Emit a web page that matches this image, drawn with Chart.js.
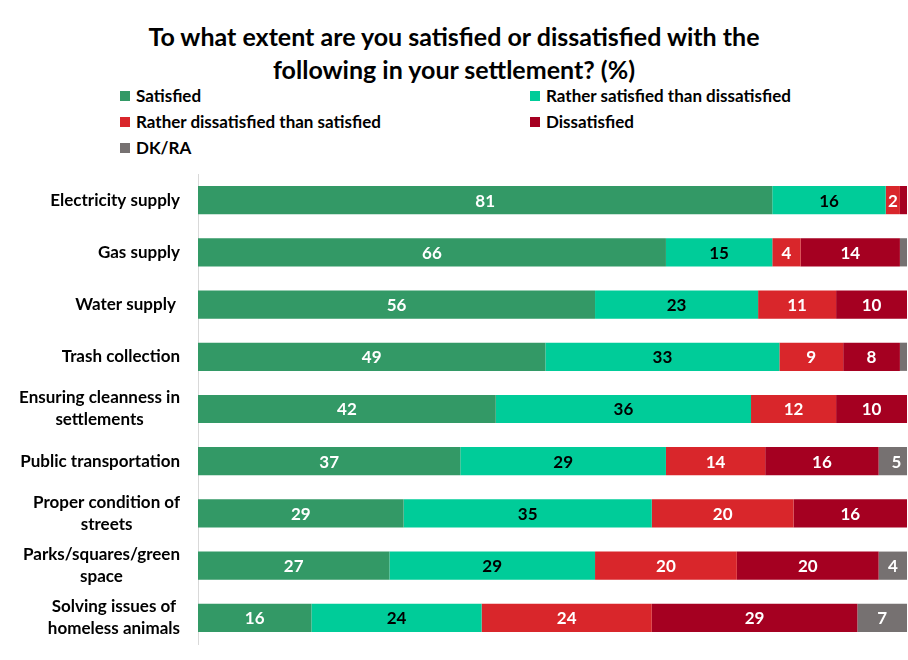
<!DOCTYPE html>
<html>
<head>
<meta charset="utf-8">
<script src="https://cdn.jsdelivr.net/npm/chart.js@4/dist/chart.umd.min.js"></script>
<style>
  html, body { margin:0; padding:0; background:#fff; }
  #wrap { position:relative; width:908px; height:660px; font-family:Lato, "Open Sans", sans-serif; }
  #title { position:absolute; left:0; top:20px; width:908px; text-align:center; font-weight:bold; font-size:25px; line-height:33px; color:#000; }
  #legend { position:absolute; left:120px; top:85px; width:760px; }
  .li { position:absolute; font-weight:bold; font-size:17px; color:#000; white-space:nowrap; line-height:21px; }
  .li span { display:inline-block; width:10px; height:10px; margin-right:6px; vertical-align:1px; }
  canvas { position:absolute; left:0; top:0; }
</style>
</head>
<body>
<div id="wrap">
  <div id="title">To what extent are you satisfied or dissatisfied with the<br>following in your settlement? (%)</div>
  <div id="legend"></div>
  <canvas id="c" width="908" height="660"></canvas>
</div>
<script>
const categories = [
  ['Electricity supply'],
  ['Gas supply'],
  ['Water supply '],
  ['Trash collection'],
  ['Ensuring cleanness in', 'settlements'],
  ['Public transportation'],
  ['Proper condition of', 'streets'],
  ['Parks/squares/green', 'space'],
  ['Solving issues of', 'homeless animals']
];
const seriesNames = ['Satisfied', 'Rather satisfied than dissatisfied', 'Rather dissatisfied than satisfied', 'Dissatisfied', 'DK/RA'];
const satisfied       = [81, 66, 56, 49, 42, 37, 29, 27, 16];
const ratherSatisfied = [16, 15, 23, 33, 36, 29, 35, 29, 24];
const ratherDissat    = [2, 4, 11, 9, 12, 14, 20, 20, 24];
const dissatisfied    = [1, 14, 10, 8, 10, 16, 16, 20, 29];
const dkra            = [0, 1, 0, 1, 0.4, 5, 0.3, 4, 7];

const colors = ['#339966', '#00CC99', '#D9262B', '#A50021', '#767171'];
const labelColors = ['#fff', '#000', '#fff', '#fff', '#fff'];
const FONT = 'Lato, "Open Sans", sans-serif';

// legend in two columns like the original
const legendPos = [[0,0],[410,0],[0,26],[410,26],[0,52]];
const leg = document.getElementById('legend');
seriesNames.forEach((n, i) => {
  const d = document.createElement('div');
  d.className = 'li';
  d.style.left = legendPos[i][0] + 'px';
  d.style.top = legendPos[i][1] + 'px';
  d.innerHTML = '<span style="background:' + colors[i] + '"></span>' + n;
  leg.appendChild(d);
});

const valueLabels = {
  id: 'valueLabels',
  afterDatasetsDraw(chart){
    const ctx = chart.ctx;
    ctx.save();
    ctx.font = 'bold 17px ' + FONT;
    ctx.textAlign = 'center';
    ctx.textBaseline = 'middle';
    chart.data.datasets.forEach((ds, i) => {
      chart.getDatasetMeta(i).data.forEach((bar, j) => {
        const v = ds.data[j];
        if (v < 2) return;
        ctx.fillStyle = labelColors[i];
        ctx.fillText(String(v), (bar.x + bar.base) / 2, bar.y + 1);
      });
    });
    ctx.restore();
  }
};

// category labels: block right-aligned to axis, lines centered inside block
const catLabels = {
  id: 'catLabels',
  afterDraw(chart){
    const ctx = chart.ctx, y = chart.scales.y;
    ctx.save();
    ctx.font = 'bold 17px ' + FONT;
    ctx.fillStyle = '#000';
    ctx.textAlign = 'center';
    ctx.textBaseline = 'middle';
    const right = y.right - 18, lh = 22;
    categories.forEach((lines, j) => {
      const w = Math.max(...lines.map(l => ctx.measureText(l).width));
      const cx = right - w / 2;
      const cy = y.getPixelForValue(j);
      lines.forEach((l, k) => {
        ctx.fillText(l, cx, cy + (k - (lines.length - 1) / 2) * lh);
      });
    });
    ctx.restore();
  }
};

const data = [satisfied, ratherSatisfied, ratherDissat, dissatisfied, dkra];
new Chart(document.getElementById('c'), {
  type: 'bar',
  data: {
    labels: categories.map(c => c.join(' ')),
    datasets: data.map((d, i) => ({
      label: seriesNames[i],
      data: d,
      backgroundColor: colors[i],
      borderWidth: 0,
      barPercentage: 0.75,
      categoryPercentage: 0.72
    }))
  },
  options: {
    indexAxis: 'y',
    responsive: false,
    animation: false,
    layout: { padding: { top: 174, bottom: 16, left: 0, right: 1 } },
    scales: {
      x: { stacked: true, min: 0, max: 100, display: false },
      y: {
        stacked: true,
        ticks: { display: false },
        grid: { display: false },
        border: { display: true, color: '#D9D9D9', width: 1 },
        afterFit(s){ s.width = 198; }
      }
    },
    plugins: { legend: { display: false }, tooltip: { enabled: false } }
  },
  plugins: [valueLabels, catLabels]
});
</script>
</body>
</html>
